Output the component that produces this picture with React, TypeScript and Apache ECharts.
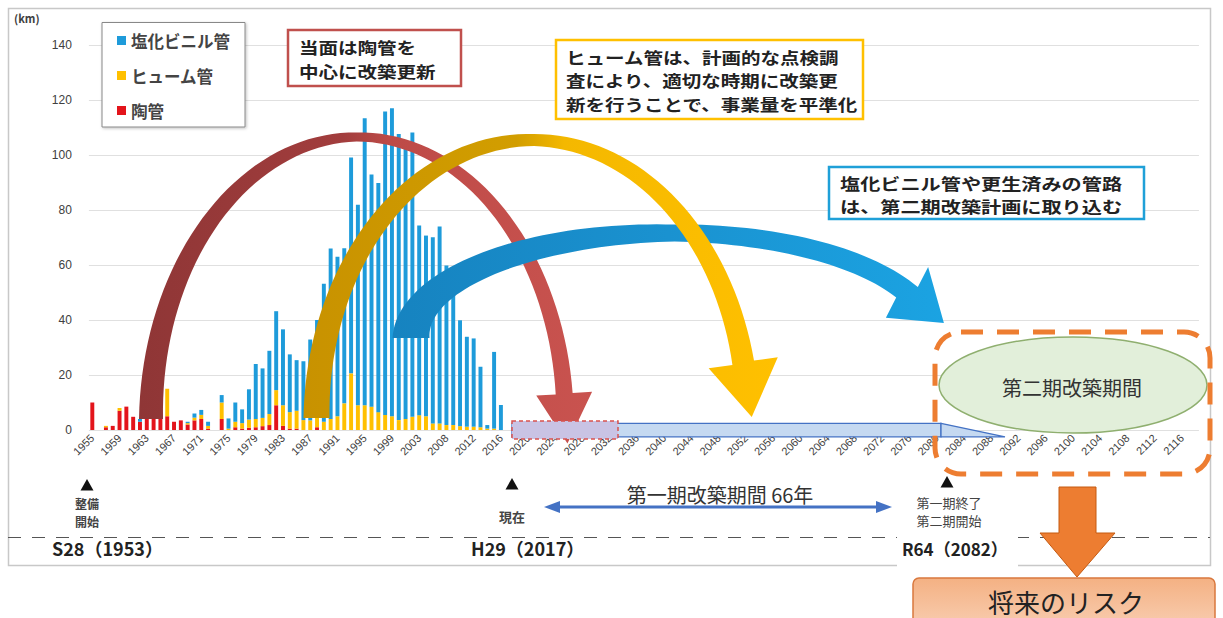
import React, { useEffect, useRef } from "react";
import * as echarts from "echarts";

// ---- categories (fiscal years; 2004 is absent in the source table) ----
const years: string[] = [];
for (let y = 1955; y <= 2118; y++) {
  if (y === 2004) continue;
  years.push(String(y));
}

// ---- series values (km), 1955 .. 2016 ----
const clayPipe = [
  10, 0, 1, 1.5, 7, 8.5, 4.8, 3, 4, 5, 5, 5, 3, 3.5, 2, 3.5, 4, 0.5, 0,
  4, 0, 1, 0.5, 0.8, 1, 1.4, 1.8, 9, 1.5, 0.5, 0.5, 0, 0, 1,
  0, 0, 0, 0, 0, 0, 0, 0, 0, 0, 0, 0, 0, 0, 0, 0, 0, 0, 0, 0, 0, 0, 0, 0, 0, 0, 0,
];
const humePipe = [
  0, 0, 0.5, 0, 1, 0, 0, 0, 0, 0, 6, 10, 0, 0, 0.5, 1, 1.5, 1, 0,
  6, 0.5, 2, 2, 3, 3, 3, 4, 5.5, 7.5, 6, 6.5, 3.6, 3.5, 4,
  3, 4, 5, 9.7, 20.6, 9, 9, 8.5, 6.5, 5.5, 5, 3.6, 4, 4.8, 5.4, 5, 2.4, 2.4, 1.8, 1.8, 1.4, 1.2, 1.2, 1, 0.5, 0.5, 0,
];
const pvcPipe = [
  0, 0, 0, 0, 0, 0, 0, 1, 0, 0, 0, 0, 0, 0, 0.5, 1.5, 1.8, 1.5, 0,
  2.7, 3.7, 7, 5, 11, 20, 18, 23, 28.7, 27.6, 21, 18.4, 21.4, 29.4, 35,
  50.2, 62, 58, 56.4, 78.5, 72.9, 104.4, 84.4, 83.3, 110.3, 112, 104, 101.4, 103.4, 69, 65.7, 67.7, 71.6, 58, 50.8, 38.5, 32.7, 32.1, 22, 1.3, 27.9, 9.1,
];

const seriesNames = ["塩化ビニル管", "ヒューム管", "陶管"];
const seriesColors = ["#1E9BDA", "#FFC000", "#E3141B"];
const yTicks = { min: 0, max: 140, interval: 20 };

const FONT = '"Noto Sans CJK JP", "Noto Sans", sans-serif';

function arcArrow(
  cx: number, cy: number, rx: number, ry: number,
  th0: number, th1: number, tL: number, tT: number, tR: number,
  hw: number, hl: number
) {
  const N = 80;
  const outer: number[][] = [];
  const inner: number[][] = [];
  for (let k = 0; k <= N; k++) {
    const th = th0 + ((th1 - th0) * k) / N;
    let t: number;
    if (th >= Math.PI / 2) t = tT + ((tL - tT) * (th - Math.PI / 2)) / (th0 - Math.PI / 2);
    else t = tR + ((tT - tR) * (th - th1)) / (Math.PI / 2 - th1);
    outer.push([cx + (rx + t / 2) * Math.cos(th), cy - (ry + t / 2) * Math.sin(th)]);
    inner.push([cx + (rx - t / 2) * Math.cos(th), cy - (ry - t / 2) * Math.sin(th)]);
  }
  const px = cx + rx * Math.cos(th1);
  const py = cy - ry * Math.sin(th1);
  let dx = rx * Math.sin(th1);
  let dy = ry * Math.cos(th1);
  const L = Math.hypot(dx, dy);
  dx /= L;
  dy /= L;
  const nx = dy;
  const ny = -dx;
  const head = [
    [px + (nx * hw) / 2, py + (ny * hw) / 2],
    [px + dx * hl, py + dy * hl],
    [px - (nx * hw) / 2, py - (ny * hw) / 2],
  ];
  return [...outer, ...head, ...inner.reverse()];
}

function txt(x: number, y: number, text: string, font: string, fill = "#333", align = "center", extra: any = {}, scaleX = 1) {
  return {
    type: "text",
    z: 20,
    x,
    y,
    scaleX,
    style: {
      text,
      font,
      fill,
      align,
      verticalAlign: "middle",
      textAlign: align,
      textVerticalAlign: "middle",
      ...extra,
    },
  };
}

function lines(x: number, y0: number, step: number, arr: string[], font: string, scaleX = 1, fill = "#222") {
  return arr.map((s, i) => txt(x, y0 + i * step, s, font, fill, "left", {}, scaleX));
}

function tri(x: number, y: number) {
  return {
    type: "polygon",
    z: 20,
    shape: { points: [[x - 6.5, y + 5.5], [x + 6.5, y + 5.5], [x, y - 6]] },
    style: { fill: "#111" },
  };
}

function buildGraphics() {
  const G: any[] = [];
  const lg = (stops: [number, string][]) =>
    new echarts.graphic.LinearGradient(0, 0, 1, 0, stops.map(([offset, color]) => ({ offset, color })));

  // frame
  G.push({ type: "rect", z: 5, shape: { x: 8.5, y: 8.5, width: 1202, height: 557 }, style: { fill: "none", stroke: "#C8C8C8", lineWidth: 1.5 } });
  // dashed baseline
  G.push({ type: "line", z: 6, shape: { x1: 8, y1: 537.5, x2: 1210, y2: 537.5 }, style: { stroke: "#555", lineWidth: 1.2, lineDash: [13, 11] } });
  // white cover for R64 label
  G.push({ type: "rect", z: 7, shape: { x: 897, y: 524, width: 121, height: 50 }, style: { fill: "#fff" } });

  G.push(txt(50, 548, "S28（1953）", `bold 18px ${FONT}`, "#222", "left", { backgroundColor: "#fff", padding: [0, 2] }));
  G.push(txt(469, 548, "H29（2017）", `bold 18px ${FONT}`, "#222", "left", { backgroundColor: "#fff", padding: [0, 2] }));
  G.push(txt(902, 548, "R64（2082）", `bold 17px ${FONT}`, "#222", "left"));

  // markers
  G.push(tri(87, 485));
  G.push(txt(87, 503, "整備", `bold 12px ${FONT}`, "#444"));
  G.push(txt(87, 521, "開始", `bold 12px ${FONT}`, "#444"));
  G.push(tri(512, 484));
  G.push(txt(512, 516, "現在", `bold 13px ${FONT}`, "#444"));
  G.push(tri(947, 482));
  G.push(txt(949, 502, "第一期終了", `13px ${FONT}`, "#444"));
  G.push(txt(949, 520, "第二期開始", `13px ${FONT}`, "#444"));

  // double arrow
  G.push({ type: "line", z: 20, shape: { x1: 552, y1: 507, x2: 884, y2: 507 }, style: { stroke: "#4472C4", lineWidth: 3 } });
  G.push({ type: "polygon", z: 20, shape: { points: [[544, 507], [560, 501], [560, 513]] }, style: { fill: "#4472C4" } });
  G.push({ type: "polygon", z: 20, shape: { points: [[892, 507], [876, 501], [876, 513]] }, style: { fill: "#4472C4" } });
  G.push(txt(720, 494, "第一期改築期間 66年", `20px ${FONT}`, "#333"));

  // timeline bar
  G.push({ type: "rect", z: 15, shape: { x: 512, y: 423.3, width: 429, height: 13.5 }, style: { fill: "#C5D9F1", stroke: "#4472C4", lineWidth: 1.3 } });
  G.push({ type: "polygon", z: 15, shape: { points: [[941, 423.3], [1005, 436.8], [941, 436.8]] }, style: { fill: "#C5D9F1", stroke: "#4472C4", lineWidth: 1.3 } });
  G.push({ type: "rect", z: 16, shape: { x: 512, y: 421, width: 106, height: 18 }, style: { fill: "#C9C3E4", stroke: "#D9534F", lineWidth: 1.5, lineDash: [4, 3] } });

  // arcs: brown, blue, yellow
  G.push({
    type: "polygon", z: 12,
    shape: { points: arcArrow(358, 419, 207, 282, Math.PI, 0.09, 24, 9, 17, 56, 50) },
    style: { fill: lg([[0, "#8F3636"], [0.45, "#A23D3D"], [0.55, "#BD4A47"], [1, "#C9534F"]]) },
  });
  G.push({
    type: "polygon", z: 13,
    shape: { points: arcArrow(672, 338, 261, 105, Math.PI, 0.45, 37, 17, 24, 66, 48) },
    style: { fill: lg([[0, "#1683C0"], [0.5, "#1A92D0"], [1, "#1BA3E2"]]) },
  });
  G.push({
    type: "polygon", z: 14,
    shape: { points: arcArrow(532, 418, 215.5, 278, Math.PI, 0.2, 26, 12, 22, 70, 55) },
    style: { fill: lg([[0, "#C89200"], [0.45, "#D29E00"], [0.55, "#F4B800"], [1, "#FFC000"]]) },
  });

  // annotation boxes
  G.push({ type: "rect", z: 18, shape: { x: 288, y: 30, width: 173, height: 56 }, style: { fill: "#fff", stroke: "#C0504D", lineWidth: 2.5 } });
  G.push(...lines(299, 46.5, 24, ["当面は陶管を", "中心に改築更新"], `bold 16px ${FONT}`, 1.22));
  G.push({ type: "rect", z: 18, shape: { x: 556, y: 40, width: 307, height: 79 }, style: { fill: "#fff", stroke: "#FFC000", lineWidth: 2.5 } });
  G.push(...lines(566, 56.5, 23.5, ["ヒューム管は、計画的な点検調", "査により、適切な時期に改築更", "新を行うことで、事業量を平準化"], `bold 16px ${FONT}`, 1.22));
  G.push({ type: "rect", z: 18, shape: { x: 829, y: 167, width: 315, height: 52 }, style: { fill: "#fff", stroke: "#1FA0D8", lineWidth: 2.5 } });
  G.push(...lines(840, 182.5, 23.5, ["塩化ビニル管や更生済みの管路", "は、第二期改築計画に取り込む"], `bold 16px ${FONT}`, 1.26));

  // second period
  G.push({ type: "ellipse", z: 18, shape: { cx: 1073, cy: 385, rx: 134, ry: 48 }, style: { fill: "#E2EFDA", stroke: "#8FAF6F", lineWidth: 1.5 } });
  G.push(txt(1072, 387, "第二期改築期間", `20px ${FONT}`, "#333"));
  G.push({ type: "rect", z: 19, shape: { x: 935, y: 332, width: 275, height: 142, r: 26 }, style: { fill: "none", stroke: "#ED7D31", lineWidth: 5, lineDash: [22, 14] } });

  // down arrow + risk box
  G.push({
    type: "polygon", z: 20,
    shape: { points: [[1059, 487], [1096, 487], [1096, 533], [1115, 533], [1077, 577], [1040, 533], [1059, 533]] },
    style: { fill: "#ED7D31", stroke: "#C55A11", lineWidth: 1 },
  });
  G.push({
    type: "rect", z: 19,
    shape: { x: 913, y: 578, width: 302, height: 46, r: 6 },
    style: {
      fill: new echarts.graphic.LinearGradient(0, 0, 0, 1, [{ offset: 0, color: "#F4B183" }, { offset: 1, color: "#F8CBAD" }]),
      stroke: "#D9783E", lineWidth: 1.5,
    },
  });
  G.push(txt(1066, 601, "将来のリスク", `26px ${FONT}`, "#222"));

  G.push(txt(14, 18, "(km)", `bold 11px ${FONT}`, "#404040", "left"));
  return G;
}

export default function App() {
  const ref = useRef<HTMLDivElement>(null);
  useEffect(() => {
    const chart = echarts.init(ref.current!, null, { renderer: "svg" });
    const catW = 6.81;
    const option: any = {
      animation: false,
      backgroundColor: "#fff",
      grid: { left: 88.9, top: 45, width: catW * years.length, height: 385, containLabel: false },
      legend: {
        data: seriesNames,
        orient: "vertical",
        left: 102,
        top: 22.5,
        padding: [9.5, 15, 8, 15],
        itemGap: 18,
        itemWidth: 9,
        itemHeight: 9,
        icon: "rect",
        backgroundColor: "#fff",
        borderColor: "#888",
        borderWidth: 1,
        shadowColor: "rgba(0,0,0,0.25)",
        shadowBlur: 3,
        shadowOffsetX: 1,
        shadowOffsetY: 1,
        textStyle: { fontSize: 16.5, color: "#444", fontFamily: FONT, fontWeight: "bold", lineHeight: 17 },
        z: 30,
      },
      xAxis: {
        type: "category",
        data: years,
        boundaryGap: true,
        axisLine: { show: false },
        axisTick: { show: false },
        axisLabel: { interval: 3, rotate: 45, fontSize: 11, color: "#404040", margin: 6, fontFamily: "Liberation Sans, sans-serif" },
        splitLine: { show: false },
      },
      yAxis: {
        type: "value",
        min: yTicks.min,
        max: yTicks.max,
        interval: yTicks.interval,
        axisLine: { show: false },
        axisTick: { show: false },
        axisLabel: { fontSize: 12, color: "#404040", margin: 17, fontFamily: "Liberation Sans, sans-serif" },
        splitLine: { lineStyle: { color: "#E0E0E0", width: 1 } },
      },
      series: [
        { name: seriesNames[2], type: "bar", stack: "total", data: clayPipe, itemStyle: { color: seriesColors[2] }, barWidth: "58%", silent: true },
        { name: seriesNames[1], type: "bar", stack: "total", data: humePipe, itemStyle: { color: seriesColors[1] }, barWidth: "58%", silent: true },
        { name: seriesNames[0], type: "bar", stack: "total", data: pvcPipe, itemStyle: { color: seriesColors[0] }, barWidth: "58%", silent: true },
      ],
      graphic: { elements: buildGraphics() },
    };
    chart.setOption(option);
    return () => chart.dispose();
  }, []);
  return (
    <div
      ref={ref}
      style={{ position: "absolute", left: 0, top: 0, width: 1223, height: 618, background: "#fff" }}
    />
  );
}
